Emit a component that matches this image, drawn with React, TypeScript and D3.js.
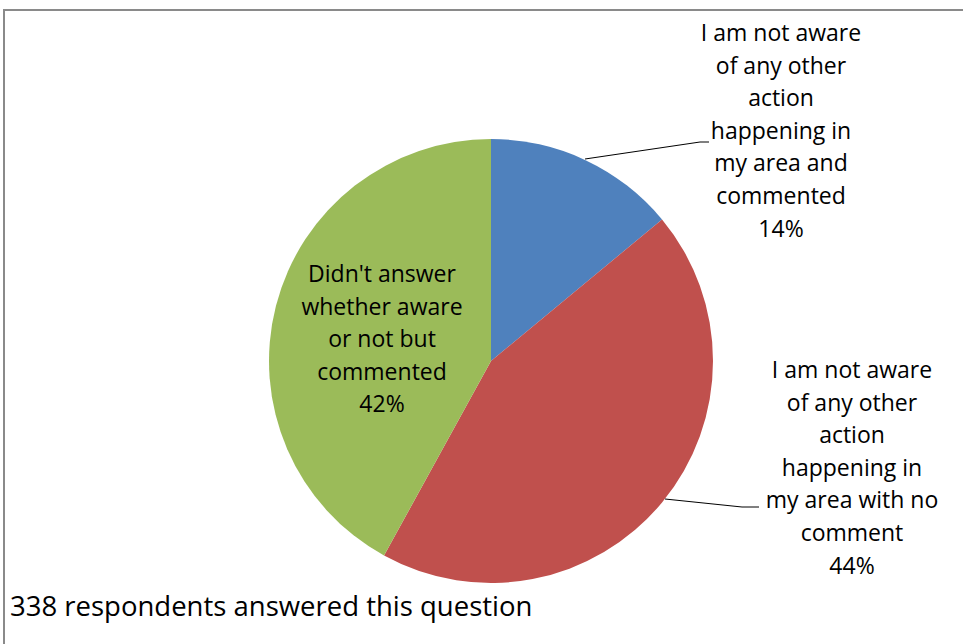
import React from "react";
import * as d3 from "d3";

const categories = [
  "I am not aware of any other action happening in my area and commented",
  "I am not aware of any other action happening in my area with no comment",
  "Didn't answer whether aware or not but commented",
];
const values = [14, 44, 42];
const colors = ["#4F81BD", "#C0504D", "#9BBB59"];
const labelLines = [
  ["I am not aware", "of any other", "action", "happening in", "my area and", "commented", "14%"],
  ["I am not aware", "of any other", "action", "happening in", "my area with no", "comment", "44%"],
  ["Didn't answer", "whether aware", "or not but", "commented", "42%"],
];
const footnote = "338 respondents answered this question";

const W = 963;
const H = 644;
const cx = 491;
const cy = 361;
const R = 222;
const labelPos = [
  { x: 781, y: 33 },
  { x: 852, y: 370 },
  { x: 382, y: 274 },
];
const leaders: ([number, number][] | null)[] = [
  [[585, 159], [700, 142], [709, 142]],
  [[665, 499], [742, 507], [759, 507]],
  null,
];
const lineH = 32.6;
const font = "'Open Sans', sans-serif";

export default function App() {
  const pie = d3.pie<number>().sort(null).value((d) => d)(values);
  const arc = d3.arc<d3.PieArcDatum<number>>().innerRadius(0).outerRadius(R);
  return (
    <svg width={W} height={H} style={{ position: "absolute", left: 0, top: 0 }}>
      <rect x={0} y={0} width={W} height={H} fill="#fff" />
      <path d={`M4,${H} L4,10 L${W},10`} fill="none" stroke="#8a8a8a" strokeWidth={2} />
      <g transform={`translate(${cx},${cy})`}>
        {pie.map((p, i) => (
          <path key={i} d={arc(p) || ""} fill={colors[i]} />
        ))}
      </g>
      {leaders.map((l, i) =>
        l ? (
          <path key={i} d={d3.line()(l) || ""} fill="none" stroke="#000" strokeWidth={1} />
        ) : null
      )}
      {labelLines.map((lines, i) => (
        <text key={i} fontFamily={font} fontSize={23} fill="#000" textAnchor="middle">
          {lines.map((s, j) => (
            <tspan key={j} x={labelPos[i].x} y={labelPos[i].y + j * lineH} dy="0.35em">
              {s}
            </tspan>
          ))}
        </text>
      ))}
      <text x={10} y={606} dy="0.35em" fontFamily={font} fontSize={27.5} fill="#000">
        {footnote}
      </text>
    </svg>
  );
}
